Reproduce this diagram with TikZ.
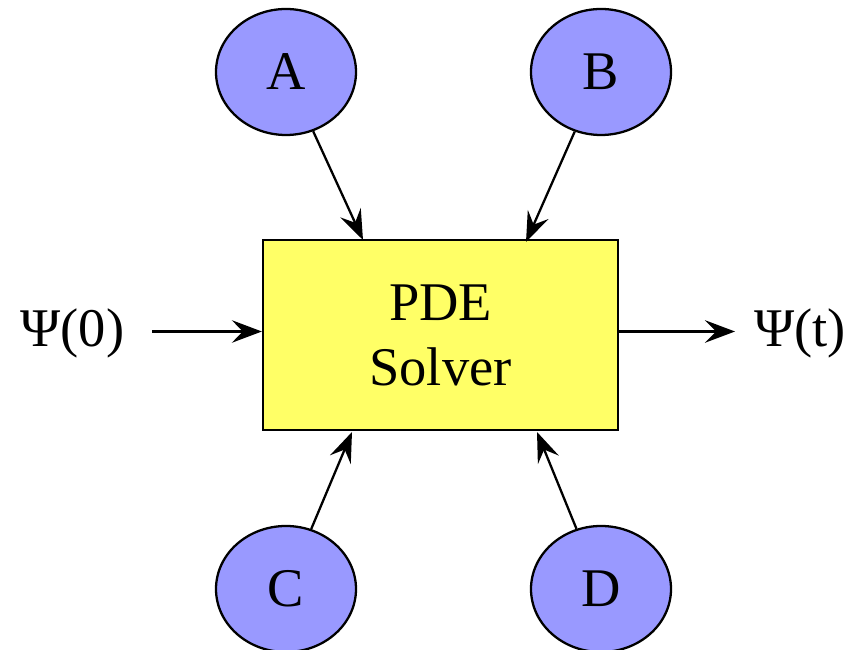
\documentclass[tikz,border=0pt]{standalone}
\usepackage{fontspec}
\setmainfont{Liberation Serif}
\usepackage{tikz}
\usetikzlibrary{shapes, arrows.meta, positioning}

\definecolor{coeff}{RGB}{153,153,255}
\definecolor{solver}{RGB}{255,255,102}

\tikzset{
  param/.style={ellipse, draw, line width=1.3pt, fill=coeff, minimum width=2.8cm, minimum height=2.52cm, inner sep=0pt},
  solverbox/.style={rectangle, draw, line width=1.3pt, fill=solver, minimum width=7.1cm, minimum height=3.8cm, align=center},
  feed/.style={-{Stealth[length=6mm, width=4.5mm, inset=2.2mm]}, line width=1.3pt}
}

\begin{document}
\begin{tikzpicture}[every node/.append style={font=\fontsize{31}{37}\selectfont}]
\useasboundingbox (0,0) rectangle (17.3,13);

\node[solverbox] (pde) at (8.81,6.3) {PDE\\Solver};

\node[param] (A) at (5.72,11.56) {A};
\node[param] (B) at (12.02,11.56) {B};
\node[param] (C) at (5.72,1.22) {C};
\node[param] (D) at (12.02,1.22) {D};

\node (psi0) at (1.45,6.34) {Ψ(0)};
\node (psit) at (16.0,6.34) {Ψ(t)};

%inputs on the box
\coordinate (inA) at (7.26,8.2);
\coordinate (inB) at (10.52,8.16);
\coordinate (inC) at (7.04,4.36);
\coordinate (inD) at (10.74,4.36);

\draw[feed] (A) -- (inA);
\draw[feed] (B) -- (inB);
\draw[feed] (C) -- (inC);
\draw[feed] (D) -- (inD);

%initial and final state
\coordinate (start) at (3.04,6.37);
\coordinate (stop) at (14.7,6.37);
\draw[feed] (start) -- (start -| pde.west);
\draw[feed] (pde.east |- stop) -- (stop);
\end{tikzpicture}
\end{document}
